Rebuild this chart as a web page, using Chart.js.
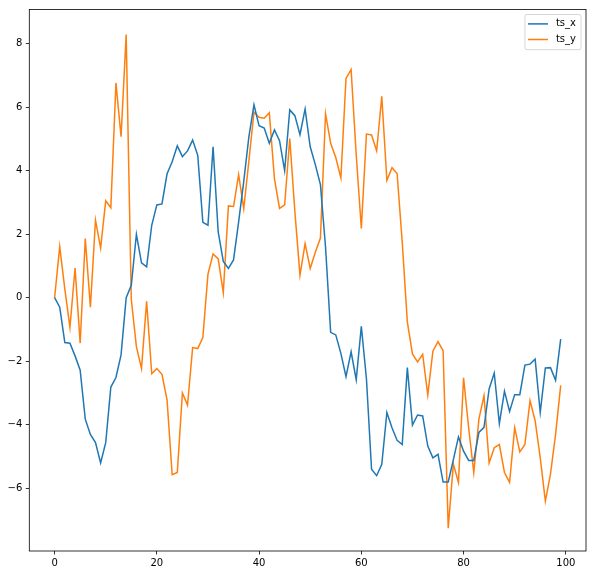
<!DOCTYPE html>
<html>
<head>
<meta charset="utf-8">
<script src="https://cdn.jsdelivr.net/npm/chart.js@4.4.1/dist/chart.umd.min.js"></script>
<style>
  html,body{margin:0;padding:0;background:#fff;}
  #wrap{width:594px;height:575px;}
</style>
</head>
<body>
<div id="wrap"><canvas id="chart" width="594" height="575"></canvas></div>
<script>
// step index 0..99
const steps = Array.from({length:100},(_,i)=>i);

const tsX = [0,-0.30,-1.41,-1.43,-1.83,-2.28,-3.82,-4.30,-4.56,-5.20,
  -4.56,-2.81,-2.51,-1.80,0.0,0.39,1.99,1.10,0.97,2.28,
  2.92,2.95,3.90,4.28,4.78,4.44,4.62,4.96,4.48,2.37,
  2.28,4.75,2.07,1.14,0.92,1.19,2.39,3.66,5.06,6.07,
  5.41,5.34,4.86,5.28,4.94,4.00,5.91,5.73,5.13,5.94,
  4.75,4.19,3.56,1.59,-1.09,-1.17,-1.75,-2.48,-1.70,-2.58,
  -0.90,-2.55,-5.40,-5.60,-5.24,-3.61,-4.09,-4.49,-4.62,-2.20,
  -4.01,-3.69,-3.72,-4.67,-5.04,-4.93,-5.80,-5.80,-5.10,-4.38,
  -4.83,-5.12,-5.12,-4.24,-4.08,-2.87,-2.37,-3.96,-2.94,-3.58,
  -3.05,-3.05,-2.12,-2.09,-1.93,-3.61,-2.21,-2.20,-2.60,-1.30];

const tsY = [0,1.61,0.27,-0.93,0.93,-1.43,1.86,-0.30,2.44,1.56,
  3.05,2.83,6.76,5.07,8.28,-0.05,-1.54,-2.23,-0.11,-2.39,
  -2.23,-2.41,-3.22,-5.57,-5.50,-3.00,-3.38,-1.57,-1.60,-1.25,
  0.74,1.38,1.22,0.16,2.89,2.87,3.87,2.80,4.30,5.84,
  5.68,5.65,5.82,3.75,2.81,2.92,5.01,2.71,0.71,1.70,
  0.92,1.43,1.88,5.79,4.86,4.41,3.77,6.90,7.18,4.50,
  2.18,5.15,5.12,4.62,6.34,3.69,4.09,3.91,1.75,-0.76,
  -1.77,-2.02,-1.78,-3.06,-1.68,-1.38,-1.67,-7.25,-5.23,-5.81,
  -2.52,-4.10,-5.50,-3.82,-3.08,-5.20,-4.72,-4.62,-5.50,-5.81,
  -4.09,-4.85,-4.62,-3.24,-3.87,-5.04,-6.40,-5.55,-4.30,-2.76];

const seriesNames = ['ts_x','ts_y'];
const seriesColors = ['#1f77b4','#ff7f0e'];
const xTicks = [0,20,40,60,80,100];
const yTicks = [-6,-4,-2,0,2,4,6,8];

const FONT = {family:'"DejaVu Sans", sans-serif', size:10};

// full box around plot + matplotlib style legend
const framePlugin = {
  id:'frame',
  afterDraw(chart){
    const {ctx, chartArea:a} = chart;
    ctx.save();
    ctx.strokeStyle = '#000';
    ctx.lineWidth = 0.8;
    ctx.strokeRect(a.left, a.top, a.right-a.left, a.bottom-a.top);

    // legend
    ctx.font = '10px "DejaVu Sans", sans-serif';
    const ds = chart.data.datasets;
    const textW = Math.max(...ds.map(d=>ctx.measureText(d.label).width));
    const w = 4 + 20 + 8 + textW + 4, rowH = 15.6, h = 4 + rowH*ds.length + 0;
    const x0 = a.right - 5 - w, y0 = a.top + 5;
    ctx.beginPath();
    ctx.roundRect(x0, y0, w, h, 2);
    ctx.fillStyle = 'rgba(255,255,255,0.8)';
    ctx.fill();
    ctx.strokeStyle = '#cccccc';
    ctx.lineWidth = 0.8;
    ctx.stroke();
    ds.forEach((d,i)=>{
      const cy = y0 + 9.4 + i*rowH;
      ctx.beginPath();
      ctx.moveTo(x0+3, cy); ctx.lineTo(x0+23, cy);
      ctx.strokeStyle = d.borderColor; ctx.lineWidth = 1.5; ctx.stroke();
      ctx.fillStyle = '#000'; ctx.textBaseline = 'middle'; ctx.textAlign = 'left';
      ctx.fillText(d.label, x0+31, cy);
    });
    ctx.restore();
  }
};

const minus = v => v < 0 ? '\u2212' + Math.abs(v) : String(v);

new Chart(document.getElementById('chart'), {
  type:'line',
  data:{
    datasets:[tsX, tsY].map((vals,k)=>({
      label: seriesNames[k],
      data: steps.map((s,i)=>({x:s, y:vals[i]})),
      borderColor: seriesColors[k],
      backgroundColor: seriesColors[k],
      borderWidth: 1.5,
      pointRadius: 0,
      tension: 0,
      fill: false
    }))
  },
  options:{
    responsive:false,
    animation:false,
    devicePixelRatio:1,
    layout:{padding:{left:0, top:7, right:8, bottom:0}},
    plugins:{legend:{display:false}, tooltip:{enabled:false}},
    scales:{
      x:{
        type:'linear', min:-4.95, max:103.95,
        afterBuildTicks: ax => { ax.ticks = xTicks.map(v=>({value:v})); },
        afterFit: ax => { ax.height = 24; },
        grid:{drawOnChartArea:false, drawTicks:true, tickLength:3.5, color:'#000', lineWidth:0.8},
        border:{display:false},
        ticks:{color:'#000', font:FONT, padding:3, maxRotation:0, autoSkip:false, callback: v => minus(v)}
      },
      y:{
        type:'linear', min:-7.97, max:9.07,
        afterBuildTicks: ax => { ax.ticks = yTicks.map(v=>({value:v})); },
        afterFit: ax => { ax.width = 29.3; },
        grid:{drawOnChartArea:false, drawTicks:true, tickLength:3.5, color:'#000', lineWidth:0.8},
        border:{display:false},
        ticks:{color:'#000', font:FONT, padding:3.5, autoSkip:false, callback: v => minus(v)}
      }
    }
  },
  plugins:[framePlugin]
});
</script>
</body>
</html>
